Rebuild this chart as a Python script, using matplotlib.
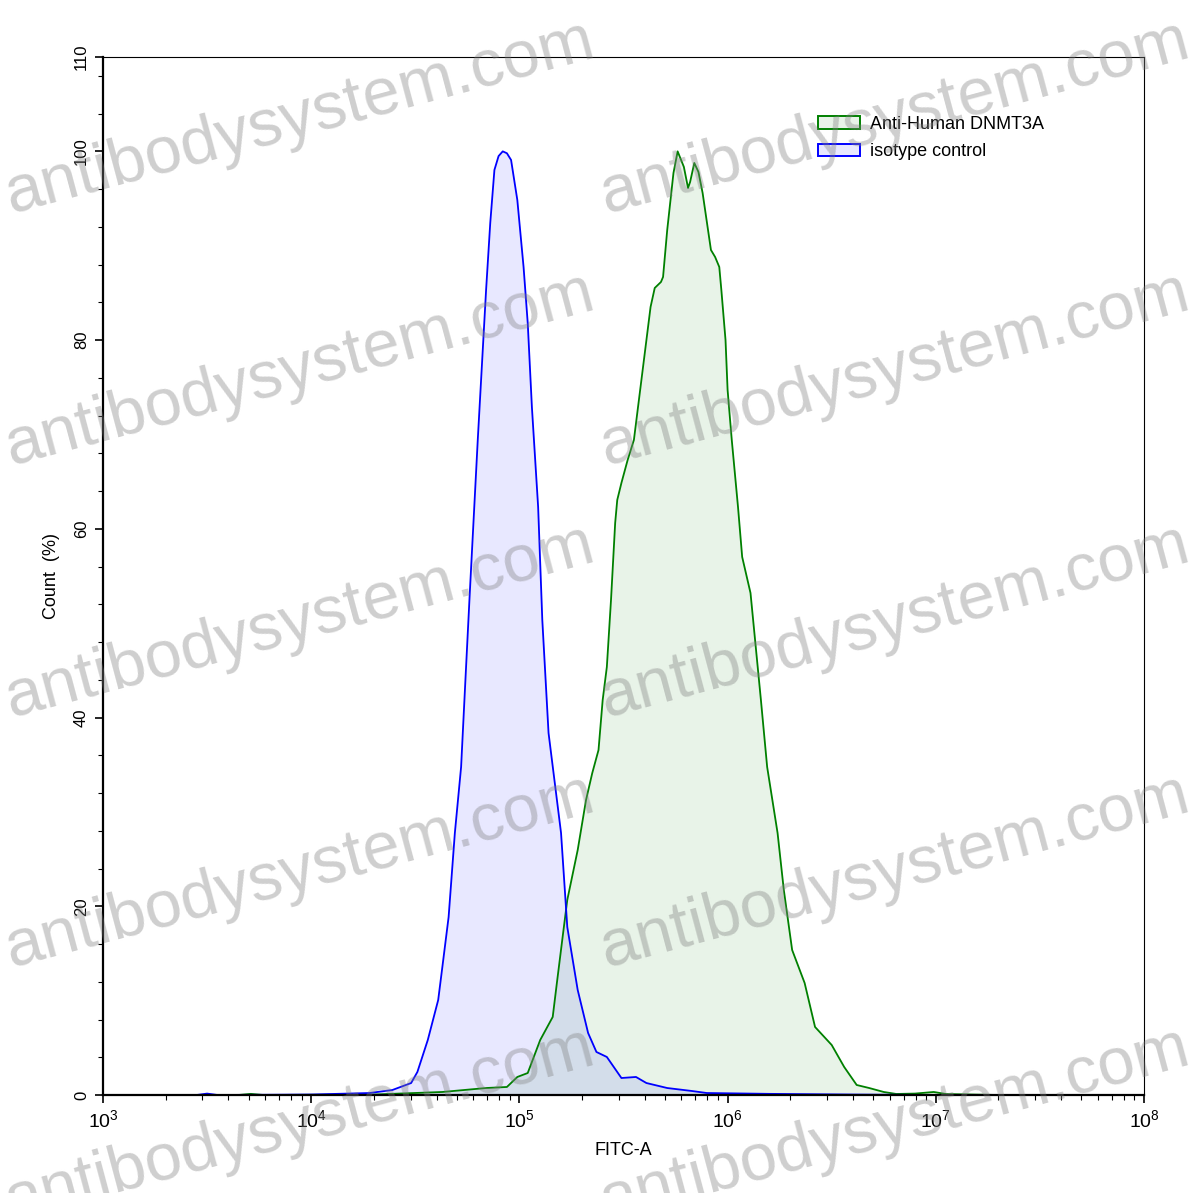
import numpy as np
import matplotlib
matplotlib.use("Agg")
import matplotlib.pyplot as plt
from matplotlib.patches import Patch
from matplotlib.ticker import FixedLocator, MultipleLocator, LogLocator, FuncFormatter, NullFormatter

plt.rcParams["font.family"] = ["Liberation Sans", "DejaVu Sans"]

# isotype control histogram (blue) -- x given as log10(FITC-A)
iso_log = [3.00, 3.45, 3.50, 3.55, 4.00, 4.28, 4.39, 4.48, 4.51, 4.56, 4.61, 4.63, 4.66,
           4.69, 4.72, 4.74, 4.76, 4.80, 4.84, 4.86, 4.88, 4.90, 4.92, 4.94, 4.96, 4.99, 5.02,
           5.04, 5.06, 5.09, 5.11, 5.14, 5.20, 5.23, 5.28, 5.33, 5.37, 5.42, 5.49,
           5.56, 5.61, 5.71, 5.83, 5.90, 6.20, 6.60, 7.00, 8.00]
iso_pct = [0.0, 0.0, 0.15, 0.0, 0.05, 0.21, 0.53, 1.27, 2.44, 5.83, 10.07, 13.57, 18.86,
           27.77, 34.76, 43.66, 52.46, 69.42, 85.31, 92.41, 98.03, 99.5, 100.0, 99.8, 99.09, 94.85, 87.75,
           81.81, 72.91, 62.31, 50.34, 38.36, 27.77, 17.80, 11.13, 6.57, 4.56, 4.03, 1.80,
           1.91, 1.27, 0.74, 0.42, 0.21, 0.12, 0.05, 0.0, 0.0]

# Anti-Human DNMT3A histogram (green)
dnmt_log = [3.00, 3.65, 3.71, 3.77, 4.30, 4.63, 4.84, 4.94, 4.99, 5.04, 5.10, 5.16, 5.18,
            5.21, 5.23, 5.28, 5.32, 5.35, 5.38, 5.40, 5.42, 5.44, 5.46, 5.47, 5.49,
            5.52, 5.55, 5.58, 5.63, 5.65, 5.68, 5.69, 5.71, 5.74, 5.76, 5.79, 5.81,
            5.82, 5.84, 5.86, 5.88, 5.92, 5.94, 5.96, 5.97, 5.99, 6.00, 6.02, 6.05,
            6.07, 6.11, 6.16, 6.19, 6.24, 6.27, 6.31, 6.37, 6.42, 6.50, 6.56, 6.62,
            6.68, 6.75, 6.81, 6.90, 6.99, 7.05, 7.30, 8.00]
dnmt_pct = [0.0, 0.0, 0.12, 0.0, 0.05, 0.32, 0.74, 0.85, 1.91, 2.33, 5.83, 8.27, 11.87,
            17.17, 20.67, 25.96, 31.26, 34.12, 36.56, 41.86, 45.36, 52.46, 60.62, 63.06, 64.86,
            67.30, 69.42, 74.71, 83.51, 85.52, 86.16, 86.69, 91.67, 97.71, 100.0, 98.35, 96.12,
            96.76, 98.77, 97.82, 95.59, 89.55, 88.81, 87.75, 85.31, 80.01, 74.71, 69.42, 62.31,
            57.02, 53.20, 41.86, 34.76, 27.77, 21.73, 15.37, 11.87, 7.21, 5.30, 2.97, 1.06,
            0.74, 0.32, 0.11, 0.15, 0.32, 0.10, 0.0, 0.0]

labels = ["Anti-Human DNMT3A", "isotype control"]
y_major = [0, 20, 40, 60, 80, 100, 110]

W, H = 1197, 1193
fig = plt.figure(figsize=(W / 100, H / 100), dpi=100)
ax = fig.add_axes([103 / W, 1 - 1095 / H, (1144 - 103) / W, (1095 - 57) / H])

iso_x = 10 ** np.array(iso_log)
dnmt_x = 10 ** np.array(dnmt_log)

ax.fill_between(dnmt_x, dnmt_pct, 0, color="#008000", alpha=0.09, lw=0)
ax.fill_between(iso_x, iso_pct, 0, color="#0000ff", alpha=0.09, lw=0)
ax.plot(dnmt_x, dnmt_pct, color="#008000", lw=1.3)
ax.plot(iso_x, iso_pct, color="#0000ff", lw=1.3)

ax.set_xscale("log")
ax.set_xlim(1e3, 1e8)
ax.set_ylim(0, 110)

ax.xaxis.set_major_locator(LogLocator(base=10))
ax.xaxis.set_minor_locator(LogLocator(base=10, subs=np.arange(2, 10)))
ax.xaxis.set_minor_formatter(NullFormatter())
ax.xaxis.set_major_formatter(FuncFormatter(lambda v, p: r"$\mathregular{10^{%d}}$" % round(np.log10(v))))
ax.yaxis.set_major_locator(FixedLocator(y_major))
ax.yaxis.set_minor_locator(MultipleLocator(4))

ax.tick_params(axis="x", which="major", direction="out", length=6, width=1.2, labelsize=14, pad=4)
ax.tick_params(axis="x", which="minor", direction="out", length=3.5, width=0.8)
ax.tick_params(axis="y", which="major", direction="out", length=6, width=1.2, labelsize=12, pad=4)
ax.tick_params(axis="y", which="minor", direction="out", length=3.5, width=0.8)
for t in ax.get_yticklabels():
    t.set_rotation(90)
    t.set_va("center")

for s in ["left", "bottom"]:
    ax.spines[s].set_linewidth(1.6)
for s in ["top", "right"]:
    ax.spines[s].set_linewidth(0.8)

ax.set_xlabel("FITC-A", fontsize=13, labelpad=8)
ax.set_ylabel("Count  (%)", fontsize=13, labelpad=10)

handles = [
    Patch(facecolor=(0, 0.5, 0, 0.09), edgecolor="#008000", lw=1.4),
    Patch(facecolor=(0, 0, 1, 0.09), edgecolor="#0000ff", lw=1.4),
]
ax.legend(handles, labels, loc="upper left",
          bbox_to_anchor=((818 - 103) / 1041, (1095 - 116) / 1038),
          frameon=False, fontsize=13, borderpad=0, borderaxespad=0,
          handlelength=2.3, handleheight=0.7, handletextpad=0.6, labelspacing=0.58)

# watermark
for yc in [118, 370, 622, 872, 1125]:
    for xc in [300, 895]:
        fig.text(xc / W, 1 - yc / H, "antibodysystem.com", fontsize=48, color="#808080",
                 alpha=0.38, rotation=15, ha="center", va="center", rotation_mode="anchor",
                 zorder=10)

fig.savefig("out.png", dpi=100)
